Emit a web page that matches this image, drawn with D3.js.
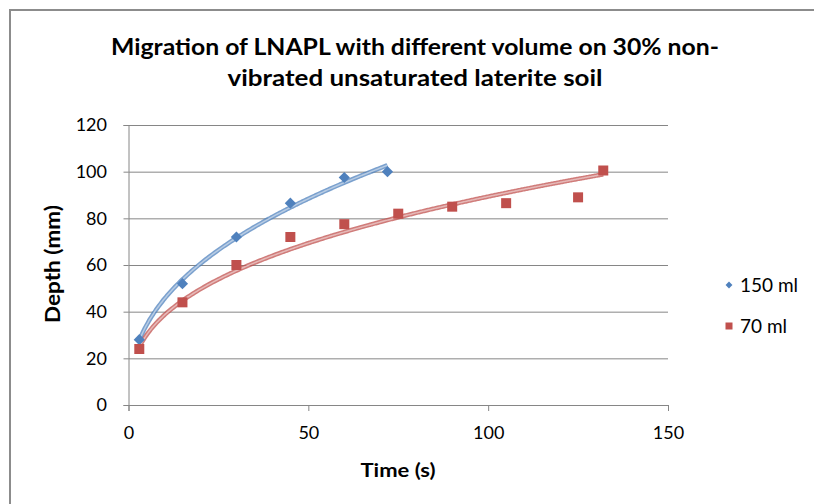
<!DOCTYPE html>
<html>
<head>
<meta charset="utf-8">
<script src="https://cdn.jsdelivr.net/npm/d3@7"></script>
<style>
  body { margin: 0; background: #fff; }
  svg { display: block; font-family: Lato, "Open Sans", sans-serif; }
</style>
</head>
<body>
<script>
// series data
var time150 = [3, 15, 30, 45, 60, 72];
var depth150 = [28, 52, 72, 86.5, 97.5, 100];
var time70 = [3, 15, 30, 45, 60, 75, 90, 105, 125, 132];
var depth70 = [24, 44, 60, 72, 77.5, 82, 85, 86.5, 89, 100.5];
var seriesNames = ["150 ml", "70 ml"];
var xTicks = [0, 50, 100, 150];
var yTicks = [0, 20, 40, 60, 80, 100, 120];
var titleLines = ["Migration of LNAPL with different volume on 30% non-", "vibrated unsaturated laterite soil"];

var W = 814, H = 504;
var margin = {top: 125, right: 146, bottom: 99, left: 128.5};
var width = W - margin.left - margin.right,
    height = H - margin.top - margin.bottom;

var Color = {
  "blue": "#4F81BD", "blueLight": "#b8cce4",
  "red": "#C0504D", "redLight": "#e6b9b8"
};

var svg = d3.select("body").append("svg")
  .attr("width", W).attr("height", H);

svg.append("rect").attr("width", W).attr("height", H).attr("fill", "#fff");
// chart frame (only top and left edges visible)
svg.append("rect")
  .attr("x", 10).attr("y", 10).attr("width", 900).attr("height", 700)
  .attr("fill", "none").attr("stroke", "#8c8c8c").attr("stroke-width", 2);

// title
var titleWidths = [608, 375];
svg.append("g").selectAll("text")
  .data(titleLines)
  .enter().append("text")
  .attr("x", 415).attr("y", function(d, i) { return 55 + i * 31; })
  .attr("text-anchor", "middle")
  .attr("font-size", 23).attr("font-weight", "bold")
  .attr("textLength", function(d, i) { return titleWidths[i]; })
  .attr("lengthAdjust", "spacingAndGlyphs")
  .text(function(d) { return d; });

var g = svg.append("g")
  .attr("transform", "translate(" + margin.left + "," + margin.top + ")");

var x = d3.scaleLinear().domain([0, 150]).range([0, width]);
var y = d3.scaleLinear().domain([0, 120]).range([height, 0]);

// gridlines
g.append("g")
  .call(d3.axisLeft(y).tickValues(yTicks).tickSize(-width).tickFormat(""))
  .call(function(s) {
    s.select(".domain").remove();
    s.selectAll("line").attr("stroke", "#868686");
  });

// y axis
g.append("g")
  .call(d3.axisLeft(y).tickValues(yTicks).tickSize(5).tickPadding(16.5))
  .call(function(s) {
    s.select(".domain").attr("stroke", "#868686");
    s.selectAll("line").attr("stroke", "#868686");
    s.selectAll("text").attr("font-size", 18).attr("fill", "#000")
      .attr("font-family", "Lato, sans-serif");
  });

// x axis
g.append("g")
  .attr("transform", "translate(0," + height + ")")
  .call(d3.axisBottom(x).tickValues(xTicks).tickSize(6).tickPadding(15))
  .call(function(s) {
    s.select(".domain").attr("stroke", "#868686");
    s.selectAll("line").attr("stroke", "#868686");
    s.selectAll("text").attr("font-size", 18).attr("fill", "#000")
      .attr("font-family", "Lato, sans-serif");
  });

// axis titles
svg.append("text")
  .attr("transform", "translate(60,264) rotate(-90)")
  .attr("text-anchor", "middle").attr("font-size", 20).attr("font-weight", "bold")
  .attr("textLength", 118).attr("lengthAdjust", "spacingAndGlyphs")
  .text("Depth (mm)");
svg.append("text")
  .attr("x", 398).attr("y", 477)
  .attr("text-anchor", "middle").attr("font-size", 19).attr("font-weight", "bold")
  .attr("textLength", 75).attr("lengthAdjust", "spacingAndGlyphs")
  .text("Time (s)");

// power trendline fitted from the data (log-log least squares, like Excel)
function powerFit(xs, ys) {
  var lx = xs.map(Math.log), ly = ys.map(Math.log);
  var mx = d3.mean(lx), my = d3.mean(ly);
  var b = d3.sum(lx, function(v, i) { return (v - mx) * (ly[i] - my); }) /
          d3.sum(lx, function(v) { return (v - mx) * (v - mx); });
  var a = Math.exp(my - b * mx);
  return function(t) { return a * Math.pow(t, b); };
}

function trend(xs, ys, dark, light) {
  var f = powerFit(xs, ys);
  var pts = d3.range(xs[0], xs[xs.length - 1] + 0.001, 0.5);
  var line = d3.line()
    .x(function(t) { return x(t); })
    .y(function(t) { return y(f(t)); })
    .curve(d3.curveMonotoneX);
  g.append("path").datum(pts).attr("d", line)
    .attr("fill", "none").attr("stroke", dark).attr("stroke-opacity", 0.75)
    .attr("stroke-width", 4.5);
  g.append("path").datum(pts).attr("d", line)
    .attr("fill", "none").attr("stroke", light).attr("stroke-width", 1.5);
}

trend(time150, depth150, Color.blue, Color.blueLight);
trend(time70, depth70, Color.red, Color.redLight);

// markers
var diamond = d3.symbol().type(d3.symbolDiamond2).size(80);
g.append("g").selectAll("path")
  .data(time150)
  .enter().append("path")
  .attr("d", diamond)
  .attr("transform", function(d, i) { return "translate(" + x(d) + "," + y(depth150[i]) + ")"; })
  .attr("fill", Color.blue);

g.append("g").selectAll("rect")
  .data(time70)
  .enter().append("rect")
  .attr("x", function(d) { return x(d) - 5; })
  .attr("y", function(d, i) { return y(depth70[i]) - 5; })
  .attr("width", 10).attr("height", 10)
  .attr("fill", Color.red);

// legend
var legend = svg.append("g").attr("transform", "translate(729,0)");
legend.append("path").attr("d", d3.symbol().type(d3.symbolDiamond2).size(30))
  .attr("transform", "translate(0,285)").attr("fill", Color.blue);
legend.append("rect").attr("x", -3.5).attr("y", 322.5).attr("width", 7).attr("height", 7)
  .attr("fill", Color.red);
legend.selectAll("text")
  .data(seriesNames)
  .enter().append("text")
  .attr("x", 11).attr("y", function(d, i) { return 292 + i * 41; })
  .attr("font-size", 19)
  .text(function(d) { return d; });
</script>
</body>
</html>
